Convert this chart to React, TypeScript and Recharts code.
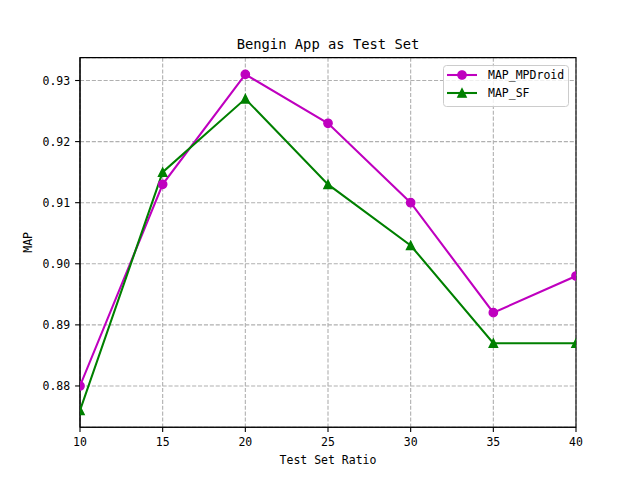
import React from 'react';
import { LineChart, Line, XAxis, YAxis, CartesianGrid, Legend, ReferenceArea, Label } from 'recharts';

const ratios = [10, 15, 20, 25, 30, 35, 40];
const mapMPDroid = [0.880, 0.913, 0.931, 0.923, 0.910, 0.892, 0.898];
const mapSF = [0.876, 0.915, 0.927, 0.913, 0.903, 0.887, 0.887];
const xTicks = [10, 15, 20, 25, 30, 35, 40];
const yTicks = [0.88, 0.89, 0.90, 0.91, 0.92, 0.93];
const seriesNames = ['MAP_MPDroid', 'MAP_SF'];
const seriesColors = ['#bf00bf', '#008000'];
const titleText = 'Bengin App as Test Set';
const xLabelText = 'Test Set Ratio';
const yLabelText = 'MAP';

const data = ratios.map((r, i) => ({ ratio: r, mp: mapMPDroid[i], sf: mapSF[i] }));

const allVals = [...mapMPDroid, ...mapSF];
const vMin = Math.min(...allVals);
const vMax = Math.max(...allVals);
const pad = (vMax - vMin) * 0.05;
const yDomain: [number, number] = [vMin - pad, vMax + pad];

const FONT = "'DejaVu Sans Mono', 'Liberation Mono', monospace";
const MS = 4.17;
const CLIP = 'url(#plotAreaClip)';

const CircleDot = (props: any) => {
  const { cx, cy, index } = props;
  if (cx == null || cy == null) return null;
  return (
    <circle key={`c-${index}`} cx={cx} cy={cy} r={MS} fill={seriesColors[0]} stroke={seriesColors[0]} strokeWidth={1.39} clipPath={CLIP} />
  );
};

const TriangleDot = (props: any) => {
  const { cx, cy, index } = props;
  if (cx == null || cy == null) return null;
  return (
    <path
      key={`tri-${index}`}
      d={`M${cx},${cy - MS}L${cx + MS},${cy + MS}L${cx - MS},${cy + MS}Z`}
      fill={seriesColors[1]}
      stroke={seriesColors[1]}
      strokeWidth={1.39}
      clipPath={CLIP}
    />
  );
};

const LegendBox = () => (
  <svg width={126} height={42} style={{ display: 'block' }}>
    <rect x={0.5} y={0.5} width={125} height={41} rx={3} ry={3} fill="rgba(255,255,255,0.8)" stroke="#cccccc" strokeWidth={1} />
    {seriesNames.map((name, i) => {
      const cy = 10 + i * 18;
      const color = seriesColors[i];
      return (
        <g key={name}>
          <line x1={4} x2={34} y1={cy} y2={cy} stroke={color} strokeWidth={2.08} />
          {i === 0 ? (
            <circle cx={19} cy={cy} r={MS} fill={color} stroke={color} strokeWidth={1.39} />
          ) : (
            <path d={`M19,${cy - MS}L${19 + MS},${cy + MS}L${19 - MS},${cy + MS}Z`} fill={color} stroke={color} strokeWidth={1.39} />
          )}
          <text x={45} y={cy + 4} fontFamily={FONT} fontSize={11.5} fill="#000">{name}</text>
        </g>
      );
    })}
  </svg>
);

export default function App() {
  return (
    <div style={{ position: 'absolute', left: 0, top: 0, width: 640, height: 480, background: '#fff' }}>
      <LineChart width={640} height={480} data={data} margin={{ top: 57.6, right: 64, bottom: 0, left: 0 }}>
        <CartesianGrid stroke="#b0b0b0" strokeWidth={1.1} strokeDasharray="4.1 1.8" />
        <XAxis
          dataKey="ratio"
          type="number"
          domain={[10, 40]}
          ticks={xTicks}
          allowDataOverflow
          height={52.8}
          tickSize={4.9}
          tickMargin={5.5}
          axisLine={{ stroke: '#000', strokeWidth: 1.1 }}
          tickLine={{ stroke: '#000', strokeWidth: 1.1 }}
          tick={{ fill: '#000', fontSize: 11.5, fontFamily: FONT }}
        />
        <YAxis
          type="number"
          domain={yDomain}
          ticks={yTicks}
          allowDataOverflow
          width={80}
          tickSize={4.9}
          tickMargin={4.9}
          tickFormatter={(v: number) => v.toFixed(2)}
          axisLine={{ stroke: '#000', strokeWidth: 1.1 }}
          tickLine={{ stroke: '#000', strokeWidth: 1.1 }}
          tick={{ fill: '#000', fontSize: 11.5, fontFamily: FONT }}
        />
        <Line
          type="linear"
          dataKey="mp"
          name={seriesNames[0]}
          stroke={seriesColors[0]}
          strokeWidth={2.08}
          dot={CircleDot}
          activeDot={false}
          isAnimationActive={false}
        />
        <Line
          type="linear"
          dataKey="sf"
          name={seriesNames[1]}
          stroke={seriesColors[1]}
          strokeWidth={2.08}
          dot={TriangleDot}
          activeDot={false}
          isAnimationActive={false}
        />
        <ReferenceArea x1={10} x2={40} y1={yDomain[0]} y2={yDomain[1]} fill="none" stroke="#000" strokeWidth={1.1} ifOverflow="visible">
          <Label
            content={(p: any) => {
              const vb = p.viewBox || {};
              return (
                <g>
                  <defs>
                    <clipPath id="plotAreaClip">
                      <rect x={vb.x} y={vb.y} width={vb.width} height={vb.height} />
                    </clipPath>
                  </defs>
                  <text x={vb.x + vb.width / 2} y={vb.y - 8.6} textAnchor="middle" fontFamily={FONT} fontSize={13.8} fill="#000">{titleText}</text>
                  <text x={vb.x + vb.width / 2} y={vb.y + vb.height + 37} textAnchor="middle" fontFamily={FONT} fontSize={11.5} fill="#000">{xLabelText}</text>
                  <text x={32} y={vb.y + vb.height / 2} textAnchor="middle" transform={`rotate(-90 32 ${vb.y + vb.height / 2})`} fontFamily={FONT} fontSize={11.5} fill="#000">{yLabelText}</text>
                </g>
              );
            }}
          />
        </ReferenceArea>
        <Legend
          layout="vertical"
          align="center"
          verticalAlign="middle"
          content={() => <LegendBox />}
          wrapperStyle={{ left: 443, top: 65, width: 126, height: 42 }}
        />
      </LineChart>
    </div>
  );
}
